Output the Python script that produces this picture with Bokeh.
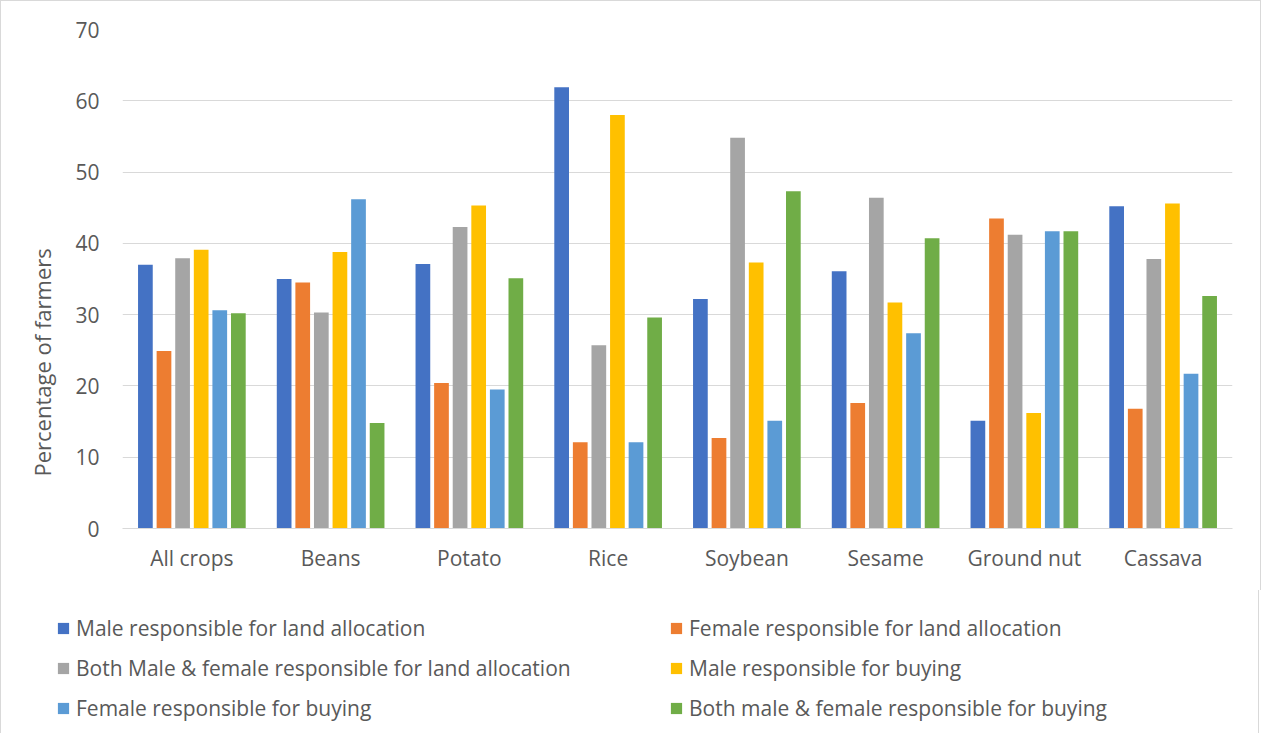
from bokeh.plotting import figure
from bokeh.models import (ColumnDataSource, FactorRange, Range1d, FixedTicker,
                          Legend, LegendItem, Title)
from bokeh.transform import dodge
from bokeh.embed import file_html
from bokeh.resources import INLINE

# Crops on the category axis
crops = ["All crops", "Beans", "Potato", "Rice", "Soybean", "Sesame", "Ground nut", "Cassava"]

# Percentage of farmers per decision type
male_land = [37.0, 35.0, 37.1, 61.9, 32.2, 36.1, 15.1, 45.2]
female_land = [24.9, 34.5, 20.4, 12.1, 12.7, 17.6, 43.5, 16.8]
both_land = [37.9, 30.3, 42.3, 25.7, 54.8, 46.4, 41.2, 37.8]
male_buy = [39.1, 38.8, 45.3, 58.0, 37.3, 31.7, 16.2, 45.6]
female_buy = [30.6, 46.2, 19.5, 12.1, 15.1, 27.4, 41.7, 21.7]
both_buy = [30.2, 14.8, 35.1, 29.6, 47.3, 40.7, 41.7, 32.6]

series_labels = [
    "Male responsible for land allocation",
    "Female responsible for land allocation",
    "Both Male & female responsible for land allocation",
    "Male responsible for buying",
    "Female responsible for buying",
    "Both male & female responsible for buying",
]
series_colors = ["#4472C4", "#ED7D31", "#A5A5A5", "#FFC000", "#5B9BD5", "#70AD47"]
y_ticks = [0, 10, 20, 30, 40, 50, 60, 70]

source = ColumnDataSource(dict(
    crop=crops,
    male_land=male_land,
    female_land=female_land,
    both_land=both_land,
    male_buy=male_buy,
    female_buy=female_buy,
    both_buy=both_buy,
))
keys = ["male_land", "female_land", "both_land", "male_buy", "female_buy", "both_buy"]

FONT = "Open Sans"
TEXT = "#595959"
GRID = "#d9d9d9"

pitch = 0.134
bar_w = 0.106

# ---- main bar chart ----
p = figure(
    x_range=FactorRange(*crops),
    y_range=Range1d(0, 70),
    frame_width=1110, frame_height=499,
    min_border_left=121, min_border_right=28,
    min_border_top=28, min_border_bottom=62,
    output_backend="svg", toolbar_location=None,
)
p.styles = {"border-left": f"1px solid {GRID}",
            "border-top": f"1px solid {GRID}",
            "border-right": f"1px solid {GRID}"}
p.outline_line_color = None
p.background_fill_color = "white"
p.border_fill_color = "white"

for k, (key, color) in enumerate(zip(keys, series_colors)):
    p.vbar(x=dodge("crop", (k - 2.5) * pitch, range=p.x_range), top=key,
           width=bar_w, source=source, fill_color=color, line_color=None)

p.xgrid.grid_line_color = None
p.ygrid.grid_line_color = GRID
p.ygrid.grid_line_width = 1
p.yaxis.ticker = FixedTicker(ticks=y_ticks)

p.yaxis.axis_line_color = None
p.yaxis.major_tick_line_color = None
p.yaxis.minor_tick_line_color = None
p.yaxis.major_tick_out = 0
p.yaxis.major_tick_in = 0
p.yaxis.major_label_standoff = 23
p.yaxis.major_label_text_font = FONT
p.yaxis.major_label_text_font_size = "21px"
p.yaxis.major_label_text_color = TEXT

p.xaxis.axis_line_color = GRID
p.xaxis.axis_line_width = 1
p.xaxis.major_tick_line_color = None
p.xaxis.major_tick_out = 0
p.xaxis.major_tick_in = 0
p.xaxis.major_label_standoff = 15
p.xaxis.major_label_text_font = FONT
p.xaxis.major_label_text_font_size = "21px"
p.xaxis.major_label_text_color = TEXT

ytitle = Title(text="Percentage of farmers", align="left", offset=52,
               standoff=32,
               text_font=FONT, text_font_size="22px", text_color=TEXT,
               text_font_style="normal")
p.add_layout(ytitle, "left")

# ---- legend strip under the chart ----
lg = figure(
    width=1259, height=143,
    x_range=FactorRange(*crops), y_range=Range1d(0, 70),
    min_border=0, x_axis_type=None, y_axis_type=None,
    output_backend="svg", toolbar_location=None,
)
lg.styles = {"border-left": f"1px solid {GRID}",
             "border-right": f"1px solid {GRID}"}
lg.outline_line_color = None
lg.grid.visible = False
lg.background_fill_color = "white"
lg.border_fill_color = "white"

# swatch renderers: same series, kept hidden, only their legend glyphs show
items = []
for k, (key, label, color) in enumerate(zip(keys, series_labels, series_colors)):
    swatch = lg.vbar(x=dodge("crop", (k - 2.5) * pitch, range=lg.x_range), top=key,
                     width=bar_w, source=source, fill_color=color, line_color=None,
                     visible=False)
    items.append(LegendItem(label=label, renderers=[swatch]))

legend = Legend(
    items=items, orientation="horizontal", ncols=2,
    location=(55, 5),
    glyph_width=14, glyph_height=14, label_standoff=6,
    label_width=593, label_height=40, spacing=0,
    padding=0, margin=0,
    border_line_color=None, background_fill_alpha=0,
    inactive_fill_alpha=0,
    label_text_font=FONT, label_text_font_size="21px", label_text_color=TEXT,
)
lg.add_layout(legend, "center")

open("out.html", "w").write(file_html([p, lg], INLINE))
